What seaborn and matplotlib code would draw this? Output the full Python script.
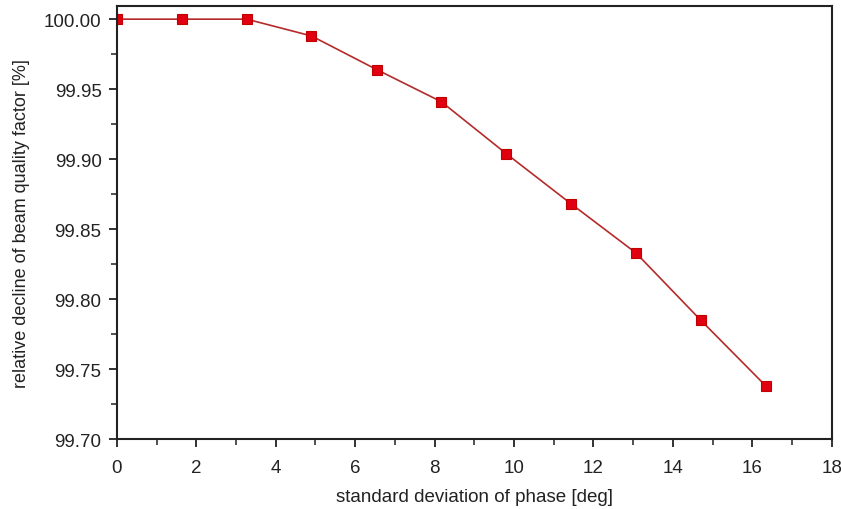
import numpy as np
import matplotlib
matplotlib.use("Agg")
import matplotlib.pyplot as plt
import seaborn as sns
from matplotlib.ticker import MultipleLocator, FormatStrFormatter

# data
phase_std = [0.0, 1.63, 3.27, 4.90, 6.54, 8.17, 9.80, 11.44, 13.07, 14.70, 16.34]
decline = [100.000, 100.000, 100.000, 99.988, 99.964, 99.941, 99.904, 99.868, 99.833, 99.785, 99.738]

sns.set_style("ticks")
plt.rcParams['font.family'] = ['Liberation Sans', 'DejaVu Sans']

fig = plt.figure(figsize=(8.41, 5.10), dpi=100)
ax = fig.add_axes([0.139, 0.137, 0.850, 0.849])

sns.lineplot(x=phase_std, y=decline, ax=ax, color="#b52a2a", linewidth=1.2,
             marker="s", markersize=7, markerfacecolor="#e00010",
             markeredgecolor="#c00000", markeredgewidth=0.8)

ax.set_xlim(0, 18)
ax.set_ylim(99.70, 100.0093)
ax.xaxis.set_major_locator(MultipleLocator(2))
ax.xaxis.set_minor_locator(MultipleLocator(1))
ax.yaxis.set_major_locator(MultipleLocator(0.05))
ax.yaxis.set_minor_locator(MultipleLocator(0.025))
ax.yaxis.set_major_formatter(FormatStrFormatter("%.2f"))

for s in ax.spines.values():
    s.set_color("#222222")
    s.set_linewidth(1.5)
ax.tick_params(which="major", direction="out", length=6, width=1.3, labelsize=13.5,
               colors="#222222", pad=5)
ax.tick_params(axis="x", which="major", pad=8)
ax.tick_params(which="minor", direction="out", length=4, width=1.1, colors="#222222")

ax.set_xlabel("standard deviation of phase [deg]", fontsize=13.5, labelpad=9, color="#222222")
ax.set_ylabel("relative decline of beam quality factor [%]", fontsize=13, labelpad=10, color="#222222")

fig.savefig("out.png", dpi=100)
